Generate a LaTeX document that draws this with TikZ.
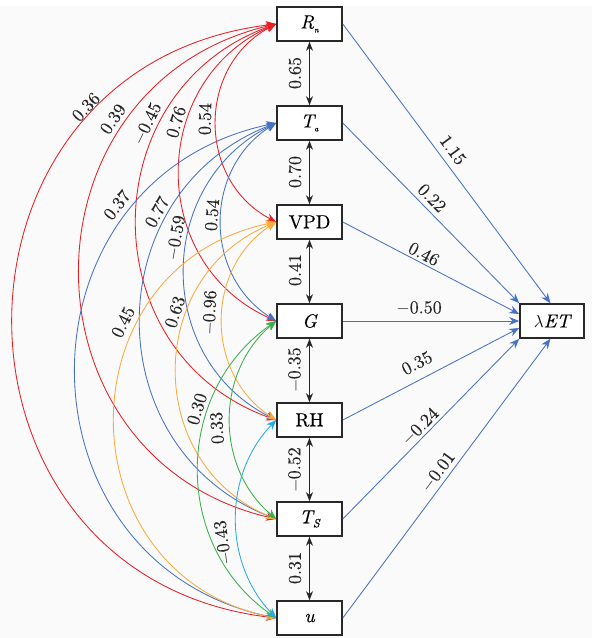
\documentclass[tikz,border=0pt]{standalone}
\usepackage{fontspec}
\setmainfont{lmroman10-regular.otf}[ItalicFont=lmroman10-italic.otf, BoldFont=lmroman10-bold.otf, FakeBold=0.25]
\usetikzlibrary{arrows.meta}
\definecolor{cred}{RGB}{232,30,36}
\definecolor{cblue}{RGB}{70,114,196}
\definecolor{corange}{RGB}{250,170,60}
\definecolor{cgreen}{RGB}{58,176,72}
\definecolor{ccyan}{RGB}{40,170,226}
\definecolor{bgc}{RGB}{250,250,250}
\definecolor{boxc}{RGB}{40,40,40}
\newcommand{\subs}[1]{\raisebox{-4pt}{\fontsize{8}{8}\selectfont\itshape #1}}
\begin{document}
\begin{tikzpicture}[x=1pt,y=1pt,
  var/.style={draw=boxc, line width=1.6pt, minimum width=65pt, minimum height=34pt, inner sep=0pt, font=\fontsize{19}{21}\selectfont, fill=white},
  lab/.style={font=\fontsize{18}{20}\selectfont, inner sep=0pt, text=black!85},
  corr/.style={line width=0.85pt, {Stealth[length=10pt,width=8pt]}-{Stealth[length=10pt,width=8pt]}},
  vert/.style={line width=1pt, black!85, {Stealth[length=9pt,width=7pt]}-{Stealth[length=9pt,width=7pt]}},
  eff/.style={line width=0.85pt, cblue, -{Stealth[length=10pt,width=8pt]}},
]
\useasboundingbox (0,0) rectangle (597,-638);
\fill[bgc] (0,-6) rectangle (592,-638);

% variable boxes
\node[var] (Rn)  at (309.5,-24)  {\itshape R\subs{n}};
\node[var] (Ta)  at (309.5,-123) {\itshape T\subs{a}};
\node[var] (Vpd) at (309.5,-222) {VPD};
\node[var] (G)   at (309.5,-321) {\itshape G};
\node[var] (RH)  at (309.5,-420) {RH};
\node[var] (Ts)  at (309.5,-519) {\itshape T\raisebox{-4pt}{\fontsize{12}{12}\selectfont S}};
\node[var] (u)   at (309.5,-618) {\itshape u};
\node[var, minimum width=64pt] (lam) at (552,-321) {$\lambda$\itshape ET};

% correlation arcs
\draw[corr, cred] (Rn.west) to[out=207.6, in=152.4, looseness=1.164] (Vpd.west);
\draw[corr, cred] (Rn.west) to[out=203.7, in=156.3, looseness=1.214] (G.west);
\draw[corr, cred] (Rn.west) to[out=199.5, in=160.5, looseness=1.277] (RH.west);
\draw[corr, cred] (Rn.west) to[out=193.0, in=167.0, looseness=1.391] (Ts.west);
\draw[corr, cred] (Rn.west) to[out=186.7, in=173.3, looseness=1.524] (u.west);

\draw[corr, cblue] (Ta.west) to[out=211.9, in=148.1, looseness=1.114] (G.west);
\draw[corr, cblue] (Ta.west) to[out=206.4, in=153.6, looseness=1.178] (RH.west);
\draw[corr, cblue] (Ta.west) to[out=201.0, in=159.0, looseness=1.253] (Ts.west);
\draw[corr, cblue] (Ta.west) to[out=191.8, in=168.2, looseness=1.413] (u.west);

\draw[corr, corange] (Vpd.west) to[out=212.8, in=147.2, looseness=1.104] (RH.west);
\draw[corr, corange] (Vpd.west) to[out=202.1, in=157.9, looseness=1.237] (Ts.west);
\draw[corr, corange] (Vpd.west) to[out=191.4, in=168.6, looseness=1.421] (u.west);

\draw[corr, cgreen] (G.west) to[out=220.1, in=139.9, looseness=1.035] (Ts.west);
\draw[corr, cgreen] (G.west) to[out=214.6, in=145.4, looseness=1.086] (u.west);

\draw[corr, ccyan] (RH.west) to[out=226, in=134, looseness=0.990] (u.west);

% arc labels
\node[lab, rotate=46.8] (l1)  at (86,-107)  {0.36};
\node[lab, rotate=55.6] (l2)  at (113,-119) {0.39};
\node[lab, rotate=63.7] (l3)  at (147,-124) {$-$0.45};
\node[lab, rotate=73.5] (l4)  at (176,-122) {0.76};
\node[lab, rotate=88.6] (l5)  at (205,-119) {0.54};
\node[lab, rotate=52]   (l6)  at (117,-205) {0.37};
\node[lab, rotate=61]   (l7)  at (157,-212) {0.77};
\node[lab, rotate=79.8] (l8)  at (176,-238) {$-$0.59};
\node[lab, rotate=85.5] (l9)  at (212,-215) {0.54};
\node[lab, rotate=63.4] (l10) at (123,-322) {0.45};
\node[lab, rotate=72]   (l11) at (175,-312) {0.63};
\node[lab, rotate=87.4] (l12) at (210,-313) {$-$0.96};
\node[lab, rotate=73]   (l13) at (197,-409) {0.30};
\node[lab, rotate=93.2] (l14) at (217,-428) {0.33};
\node[lab, rotate=97.6] (l15) at (223,-543) {$-$0.43};

% adjacent correlations
\draw[vert] (Rn) -- (Ta);
\draw[vert] (Ta) -- (Vpd);
\draw[vert] (Vpd) -- (G);
\draw[vert] (G) -- (RH);
\draw[vert] (RH) -- (Ts);
\draw[vert] (Ts) -- (u);
\node[lab, rotate=90] (v1) at (295,-73)  {0.65};
\node[lab, rotate=90] (v2) at (295,-172) {0.70};
\node[lab, rotate=90] (v3) at (295,-270) {0.41};
\node[lab, rotate=90] (v4) at (295,-370) {$-$0.35};
\node[lab, rotate=90] (v5) at (295,-470) {$-$0.52};
\node[lab, rotate=90] (v6) at (295,-568) {0.31};

% direct effects
\draw[eff] (Rn.east)  -- (lam.95);
\draw[eff] (Ta.east)  -- (lam.north west);
\draw[eff] (Vpd.east) -- (lam.168);
\draw[eff] (G.east)   -- (lam.west);
\draw[eff] (RH.east)  -- (lam.192);
\draw[eff] (Ts.east)  -- (lam.south west);
\draw[eff] (u.east)   -- (lam.265);
\node[lab, rotate=-53.7] (e1) at (453,-150) {1.15};
\node[lab, rotate=-45.6] (e2) at (432,-198) {0.22};
\node[lab, rotate=-27.6] (e3) at (424,-254) {0.46};
\node[lab]               (e4) at (419,-308) {$-$0.50};
\node[lab, rotate=27.5]  (e5) at (417,-363) {0.35};
\node[lab, rotate=45.5]  (e6) at (420,-427) {$-$0.24};
\node[lab, rotate=53.5]  (e7) at (438,-472) {$-$0.01};
\end{tikzpicture}
\end{document}
